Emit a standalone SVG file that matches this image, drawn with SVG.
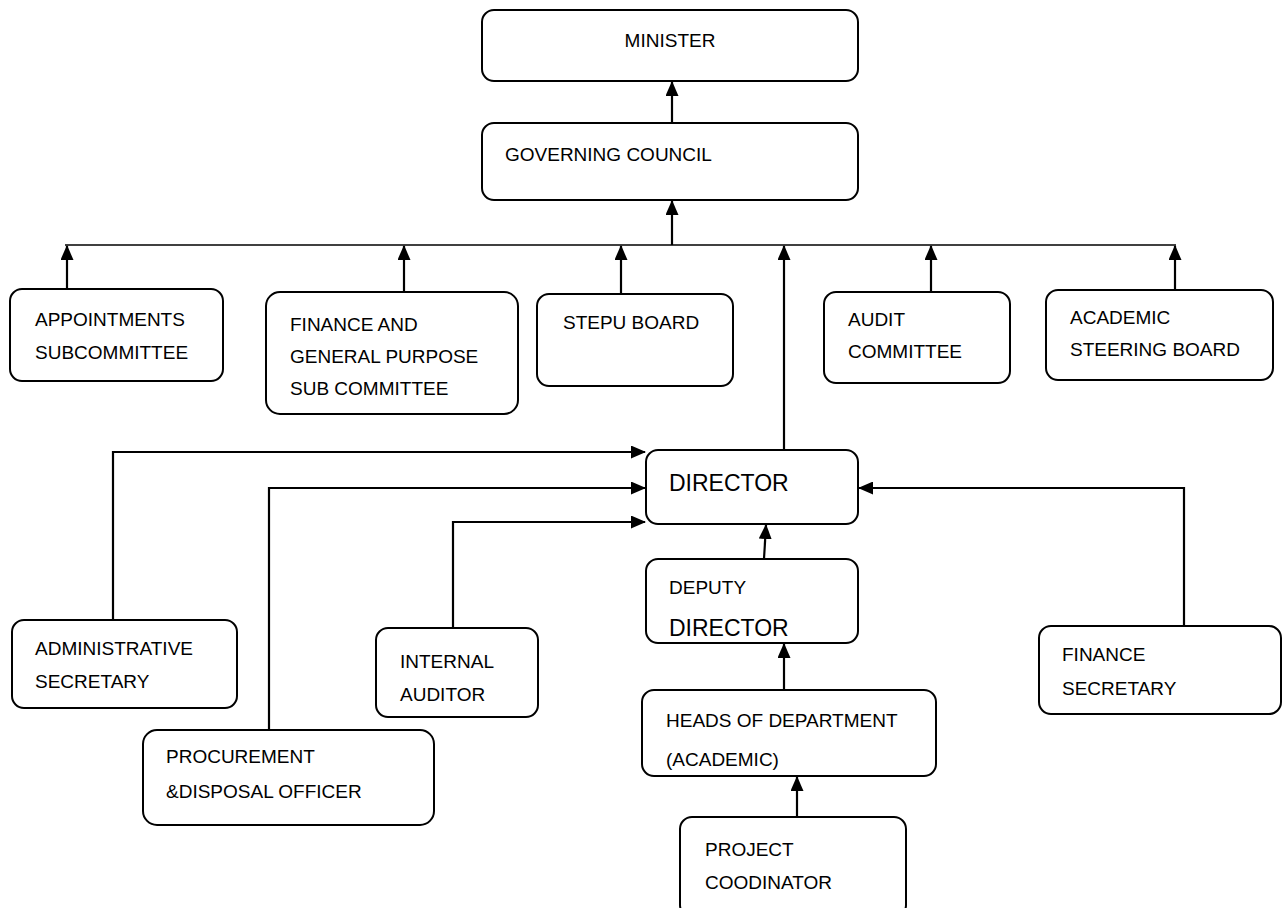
<svg xmlns="http://www.w3.org/2000/svg" width="1286" height="908" viewBox="0 0 1286 908">
<defs>
<marker id="ah" markerWidth="15" markerHeight="13" refX="14" refY="6.5" orient="auto" markerUnits="userSpaceOnUse">
<path d="M0,0 L15,6.5 L0,13 Z" fill="#000"/>
</marker>
<style>
.box{fill:#fff;stroke:#000;stroke-width:2}
.t{font-family:"Liberation Sans",Arial,sans-serif;font-size:19px;fill:#000}
.big{font-size:23px}
.c{fill:none;stroke:#000;stroke-width:2.2}
.bus{fill:none;stroke:#000;stroke-width:1.6}
</style>
</defs>
<rect width="1286" height="908" fill="#fff"/>
<g id="connectors">
<line class="bus" x1="65" y1="245" x2="1176" y2="245"/>
<line class="c" x1="672" y1="122" x2="672" y2="82" marker-end="url(#ah)"/>
<line class="c" x1="672" y1="245" x2="672" y2="201" marker-end="url(#ah)"/>
<line class="c" x1="67" y1="289" x2="67" y2="246" marker-end="url(#ah)"/>
<line class="c" x1="404" y1="292" x2="404" y2="246" marker-end="url(#ah)"/>
<line class="c" x1="621" y1="294" x2="621" y2="246" marker-end="url(#ah)"/>
<line class="c" x1="784" y1="450" x2="784" y2="246" marker-end="url(#ah)"/>
<line class="c" x1="931" y1="292" x2="931" y2="246" marker-end="url(#ah)"/>
<line class="c" x1="1175" y1="290" x2="1175" y2="246" marker-end="url(#ah)"/>
<polyline class="c" points="113,620 113,452 645,452" marker-end="url(#ah)"/>
<polyline class="c" points="269,730 269,488 645,488" marker-end="url(#ah)"/>
<polyline class="c" points="453,628 453,522 645,522" marker-end="url(#ah)"/>
<polyline class="c" points="1184,626 1184,488 859,488" marker-end="url(#ah)"/>
<line class="c" x1="764" y1="559" x2="766" y2="525" marker-end="url(#ah)"/>
<line class="c" x1="784" y1="690" x2="784" y2="644" marker-end="url(#ah)"/>
<line class="c" x1="797" y1="817" x2="797" y2="777" marker-end="url(#ah)"/>
</g>
<g id="minister"><rect class="box" x="482" y="10" width="376" height="71" rx="12"/><text class="t" x="670" y="47" text-anchor="middle">MINISTER</text></g>
<g id="governing-council"><rect class="box" x="482" y="123" width="376" height="77" rx="12"/><text class="t" x="505" y="161">GOVERNING COUNCIL</text></g>
<g id="appointments"><rect class="box" x="10" y="289" width="213" height="92" rx="12"/><text class="t" x="35" y="326">APPOINTMENTS</text><text class="t" x="35" y="359">SUBCOMMITTEE</text></g>
<g id="finance-gp"><rect class="box" x="266" y="292" width="252" height="122" rx="14"/><text class="t" x="290" y="331">FINANCE AND</text><text class="t" x="290" y="363">GENERAL PURPOSE</text><text class="t" x="290" y="395">SUB COMMITTEE</text></g>
<g id="stepu"><rect class="box" x="537" y="294" width="196" height="92" rx="12"/><text class="t" x="563" y="329">STEPU BOARD</text></g>
<g id="audit"><rect class="box" x="824" y="292" width="186" height="91" rx="12"/><text class="t" x="848" y="326">AUDIT</text><text class="t" x="848" y="358">COMMITTEE</text></g>
<g id="academic-steering"><rect class="box" x="1046" y="290" width="227" height="90" rx="12"/><text class="t" x="1070" y="324">ACADEMIC</text><text class="t" x="1070" y="356">STEERING BOARD</text></g>
<g id="director"><rect class="box" x="646" y="450" width="212" height="74" rx="12"/><text class="t big" x="669" y="491">DIRECTOR</text></g>
<g id="deputy-director"><rect class="box" x="646" y="559" width="212" height="84" rx="12"/><text class="t" x="669" y="594">DEPUTY</text><text class="t big" x="669" y="636">DIRECTOR</text></g>
<g id="heads-of-department"><rect class="box" x="642" y="690" width="294" height="86" rx="12"/><text class="t" x="666" y="727">HEADS OF DEPARTMENT</text><text class="t" x="666" y="766">(ACADEMIC)</text></g>
<g id="project-coordinator"><rect class="box" x="680" y="817" width="226" height="100" rx="12"/><text class="t" x="705" y="856">PROJECT</text><text class="t" x="705" y="889">COODINATOR</text></g>
<g id="admin-secretary"><rect class="box" x="12" y="620" width="225" height="88" rx="12"/><text class="t" x="35" y="655">ADMINISTRATIVE</text><text class="t" x="35" y="688">SECRETARY</text></g>
<g id="internal-auditor"><rect class="box" x="376" y="628" width="162" height="89" rx="12"/><text class="t" x="400" y="668">INTERNAL</text><text class="t" x="400" y="701">AUDITOR</text></g>
<g id="procurement"><rect class="box" x="143" y="730" width="291" height="95" rx="14"/><text class="t" x="166" y="763">PROCUREMENT</text><text class="t" x="166" y="798">&amp;DISPOSAL OFFICER</text></g>
<g id="finance-secretary"><rect class="box" x="1039" y="626" width="242" height="88" rx="12"/><text class="t" x="1062" y="661">FINANCE</text><text class="t" x="1062" y="695">SECRETARY</text></g>
</svg>
